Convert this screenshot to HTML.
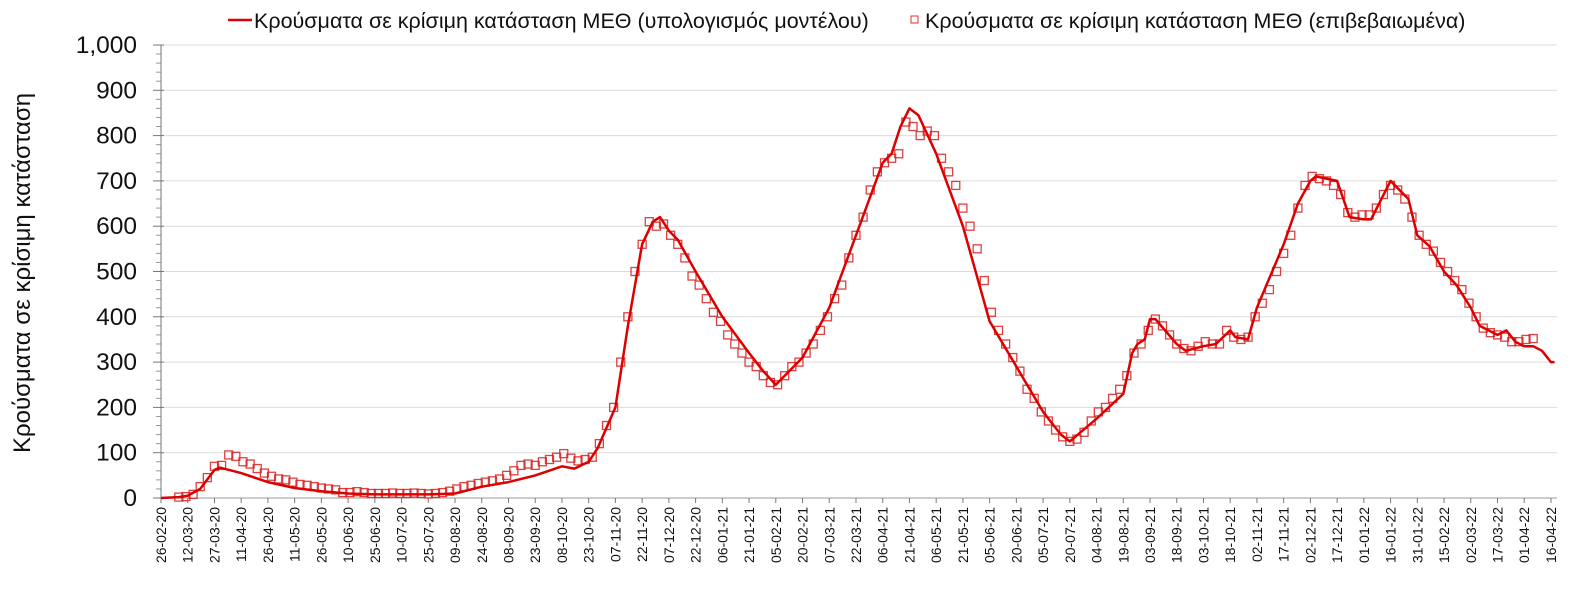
<!DOCTYPE html>
<html><head><meta charset="utf-8">
<style>
html,body{margin:0;padding:0;background:#fff;}
svg{display:block;font-family:"Liberation Sans","DejaVu Sans",sans-serif;}
</style></head>
<body>
<svg id="chart" width="1582" height="597" viewBox="0 0 1582 597" xmlns="http://www.w3.org/2000/svg">
  <g id="grid"></g>
  <g id="yaxis"></g>
  <g id="xaxis"></g>
  <g id="obs"></g>
  <g id="model"></g>
  <text transform="translate(30,273) rotate(-90)" text-anchor="middle" font-size="24" fill="#111">Κρούσματα σε κρίσιμη κατάσταση</text>
  <g>
    <line x1="228" y1="20" x2="252" y2="20" stroke="#dd0000" stroke-width="2.5"/>
    <text x="254" y="28" font-size="21.5" fill="#111">Κρούσματα σε κρίσιμη κατάσταση ΜΕΘ (υπολογισμός μοντέλου)</text>
    <rect x="911" y="16" width="7" height="7" fill="none" stroke="#e03030" stroke-width="1"/>
    <text x="925" y="28" font-size="21.5" fill="#111">Κρούσματα σε κρίσιμη κατάσταση ΜΕΘ (επιβεβαιωμένα)</text>
  </g>
</svg>
<script>
const tickLabels = ["26-02-20","12-03-20","27-03-20","11-04-20","26-04-20","11-05-20","26-05-20","10-06-20","25-06-20","10-07-20","25-07-20","09-08-20","24-08-20","08-09-20","23-09-20","08-10-20","23-10-20","07-11-20","22-11-20","07-12-20","22-12-20","06-01-21","21-01-21","05-02-21","20-02-21","07-03-21","22-03-21","06-04-21","21-04-21","06-05-21","21-05-21","05-06-21","20-06-21","05-07-21","20-07-21","04-08-21","19-08-21","03-09-21","18-09-21","03-10-21","18-10-21","02-11-21","17-11-21","02-12-21","17-12-21","01-01-22","16-01-22","31-01-22","15-02-22","02-03-22","17-03-22","01-04-22","16-04-22"];
const yTicks = [0,100,200,300,400,500,600,700,800,900,1000];
const modelDays = [0,10,15,22,30,33,45,60,75,90,105,120,135,150,165,180,195,210,225,232,240,245,255,262,270,276,280,285,290,300,315,330,338,345,360,375,390,405,410,415,420,425,435,450,465,480,495,505,510,525,540,545,548,552,555,558,570,575,585,592,600,603,610,615,630,638,645,648,660,667,675,679,690,695,700,705,712,720,727,735,740,750,755,760,765,770,775,780,782];
const modelVals = [0,2,5,20,62,67,55,35,22,15,10,8,8,8,10,25,35,50,70,65,80,110,200,380,560,610,620,590,570,500,400,320,280,250,310,420,580,740,760,820,860,845,760,600,390,290,190,140,125,175,230,320,340,350,395,395,340,325,335,340,370,355,350,420,560,650,700,710,700,620,615,615,700,680,660,580,555,500,470,420,380,360,370,345,335,335,325,300,300];
const obsStart = 10;
const obsStep = 4;
const obsVals = [2,3,8,25,45,70,72,95,92,80,75,65,55,48,42,40,35,30,28,25,22,20,18,12,12,14,12,10,10,10,11,10,10,11,10,9,10,12,15,20,25,28,32,35,38,42,50,60,72,75,72,80,85,90,98,88,82,85,90,120,160,200,300,400,500,560,610,600,605,580,560,530,490,470,440,410,390,360,340,320,300,290,270,255,250,270,290,300,320,340,370,400,440,470,530,580,620,680,720,740,750,760,830,820,800,810,800,750,720,690,640,600,550,480,410,370,340,310,280,240,220,190,170,150,135,125,130,145,170,190,200,220,240,270,320,340,370,395,380,360,340,330,325,335,345,340,340,370,355,350,355,400,430,460,500,540,580,640,690,710,705,700,690,670,630,620,625,625,640,670,690,680,660,620,580,560,545,520,500,480,460,430,400,375,365,360,355,345,345,350,352];

const NS = "http://www.w3.org/2000/svg";
const X0 = 161, PXD = 26.73/15, Y0 = 498, PXV = 0.453, XR = 1557;
function xs(d){ return X0 + d*PXD; }
function ys(v){ return Y0 - v*PXV; }
function mk(tag, attrs, parent){ const e=document.createElementNS(NS,tag); for(const k in attrs) e.setAttribute(k,attrs[k]); parent.appendChild(e); return e; }

const grid=document.getElementById('grid'), ya=document.getElementById('yaxis'), xa=document.getElementById('xaxis');
yTicks.forEach(v=>{
  if(v>0){
    const g=mk('line',{x1:X0,x2:XR,y1:ys(v),y2:ys(v),stroke:'#dcdcdc','stroke-width':1},grid);
    
    
  }
  const t=mk('line',{x1:X0-8,x2:X0+3,y1:ys(v),y2:ys(v),stroke:'#777','stroke-width':1},ya);
  
  
  const l=mk('text',{x:137,y:ys(v)+8,'text-anchor':'end','font-size':24.5,fill:'#111'},ya);
  l.textContent = v>=1000 ? '1,000' : String(v);
  
  
});
for(let v=20; v<1000; v+=20){
  if(v%100===0) continue;
  const m=mk('line',{x1:X0-5,x2:X0,y1:ys(v),y2:ys(v),stroke:'#999','stroke-width':1},ya);
  
  
}
const yl=mk('line',{x1:X0,x2:X0,y1:ys(1000),y2:Y0,stroke:'#777','stroke-width':1},ya);


const xl=mk('line',{x1:X0,x2:XR,y1:Y0,y2:Y0,stroke:'#999','stroke-width':1},xa);


tickLabels.forEach((lab,i)=>{
  const x=xs(i*15);
  const t=mk('line',{x1:x,x2:x,y1:Y0,y2:Y0+5,stroke:'#777','stroke-width':1},xa);
  
  
  const tx=mk('text',{transform:`translate(${x+5},${Y0+9}) rotate(-90)`,'text-anchor':'end','font-size':14,fill:'#111'},xa);
  tx.textContent=lab;
  
  
});

const obs=document.getElementById('obs');
obsVals.forEach((v,i)=>{
  const d=obsStart+i*obsStep;
  const r=mk('rect',{x:xs(d)-4,y:ys(v)-4,width:8,height:8,fill:'none',stroke:'#d82020','stroke-width':1.3,'stroke-opacity':0.85},obs);
  
  
});
const model=document.getElementById('model');
const pts=modelDays.map((d,i)=>xs(d).toFixed(1)+','+ys(modelVals[i]).toFixed(1)).join(' ');
const pl=mk('polyline',{points:pts,fill:'none',stroke:'#dd0000','stroke-width':2.5,'stroke-linejoin':'round'},model);


</script>
</body></html>
